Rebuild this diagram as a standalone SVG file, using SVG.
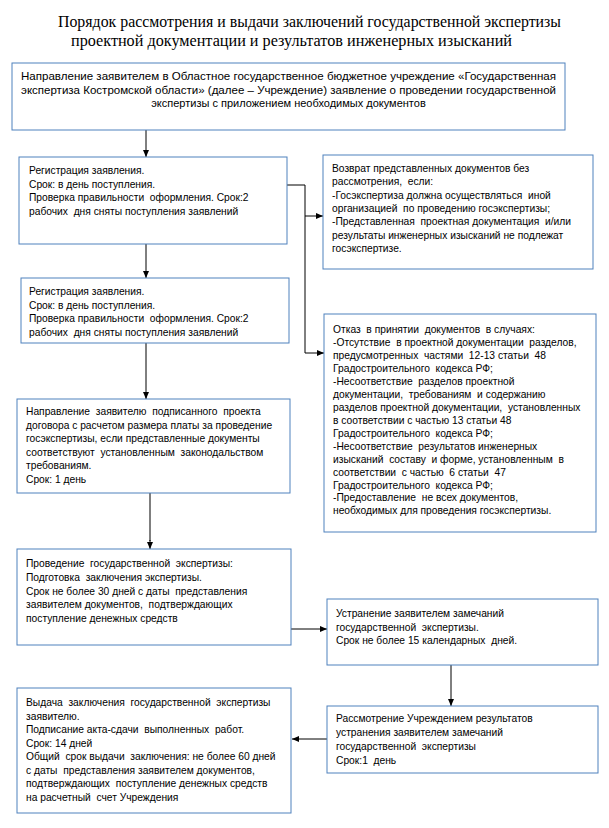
<svg xmlns="http://www.w3.org/2000/svg" width="609" height="828" viewBox="0 0 609 828">
<defs>
<style>
.box{fill:#fff;stroke:#4F81BD;stroke-width:1}
.t{font-family:"Liberation Sans",Arial,sans-serif;font-size:10.25px;fill:#000;white-space:pre}
.h{font-family:"Liberation Serif","Times New Roman",serif;font-size:16px;fill:#000}
.c{fill:none;stroke:#000;stroke-width:1}
</style>
<marker id="ar" markerWidth="8" markerHeight="8" refX="7" refY="4" orient="auto" markerUnits="userSpaceOnUse">
<path d="M0,1 L7,4 L0,7 Z" fill="#000"/>
</marker>
</defs>
<rect width="609" height="828" fill="#fff"/>
<g id="title">
<text class="h" x="58" y="27" textLength="503" lengthAdjust="spacingAndGlyphs">Порядок рассмотрения и выдачи заключений государственной экспертизы</text>
<text class="h" x="71" y="46" textLength="441" lengthAdjust="spacingAndGlyphs">проектной документации и результатов инженерных изысканий</text>
</g>
<g id="connectors">
<line class="c" x1="146" y1="130" x2="146" y2="157" marker-end="url(#ar)"/>
<line class="c" x1="146" y1="244" x2="146" y2="278" marker-end="url(#ar)"/>
<line class="c" x1="146" y1="343" x2="146" y2="399" marker-end="url(#ar)"/>
<line x1="150" y1="493" x2="150" y2="541" stroke="#7f7f7f" stroke-width="2"/>
<line class="c" x1="150" y1="540" x2="150" y2="549" marker-end="url(#ar)"/>
<polyline class="c" points="287,185 305,185 305,353"/>
<line class="c" x1="305" y1="216" x2="323" y2="216" marker-end="url(#ar)"/>
<line class="c" x1="305" y1="353" x2="324" y2="353" marker-end="url(#ar)"/>
<line class="c" x1="291" y1="629" x2="327" y2="629" marker-end="url(#ar)"/>
<line class="c" x1="451" y1="665" x2="451" y2="706" marker-end="url(#ar)"/>
<line class="c" x1="327" y1="739" x2="292" y2="739" marker-end="url(#ar)"/>
</g>
<g id="n1">
<rect class="box" x="12" y="63" width="553" height="67"/>
<text class="t" style="font-size:11px" x="288.5" y="80" text-anchor="middle" textLength="535" lengthAdjust="spacingAndGlyphs">Направление заявителем в Областное государственное бюджетное учреждение «Государственная</text>
<text class="t" style="font-size:11px" x="288.5" y="93.5" text-anchor="middle" textLength="535" lengthAdjust="spacingAndGlyphs">экспертиза Костромской области» (далее – Учреждение) заявление о проведении государственной</text>
<text class="t" style="font-size:11px" x="288.5" y="107" text-anchor="middle">экспертизы с приложением необходимых документов</text>
</g>
<g id="n2">
<rect class="box" x="19" y="157" width="268" height="87"/>
<text class="t" x="29" y="174">Регистрация заявления.</text>
<text class="t" x="29" y="187.5">Срок: в день поступления.</text>
<text class="t" x="29" y="201">Проверка правильности  оформления. Срок:2</text>
<text class="t" x="29" y="214.5">рабочих  дня сняты поступления заявлений</text>
</g>
<g id="n3">
<rect class="box" x="323" y="155" width="270" height="114"/>
<text class="t" x="332" y="172">Возврат представленных документов без</text>
<text class="t" x="332" y="185.4">рассмотрения,  если:</text>
<text class="t" x="332" y="198.7">-Госэкспертиза должна осуществляться  иной</text>
<text class="t" x="332" y="212">организацией  по проведению госэкспертизы;</text>
<text class="t" x="332" y="225.4">-Представленная  проектная документация  и/или</text>
<text class="t" x="332" y="238.7">результаты инженерных изысканий не подлежат</text>
<text class="t" x="332" y="252">госэкспертизе.</text>
</g>
<g id="n4">
<rect class="box" x="324" y="314" width="272" height="218"/>
<text class="t" x="333" y="333.3">Отказ  в принятии  документов  в случаях:</text>
<text class="t" x="333" y="346.2">-Отсутствие  в проектной документации  разделов,</text>
<text class="t" x="333" y="359.2">предусмотренных  частями  12-13 статьи  48</text>
<text class="t" x="333" y="372.1">Градостроительного  кодекса РФ;</text>
<text class="t" x="333" y="385">-Несоответствие  разделов проектной</text>
<text class="t" x="333" y="398">документации,  требованиям  и содержанию</text>
<text class="t" x="333" y="410.9">разделов проектной документации,  установленных</text>
<text class="t" x="333" y="423.8">в соответствии с частью 13 статьи 48</text>
<text class="t" x="333" y="436.7">Градостроительного  кодекса РФ;</text>
<text class="t" x="333" y="449.7">-Несоответствие  результатов инженерных</text>
<text class="t" x="333" y="462.6">изысканий  составу  и форме, установленным  в</text>
<text class="t" x="333" y="475.5">соответствии  с частью  6 статьи  47</text>
<text class="t" x="333" y="488.5">Градостроительного  кодекса РФ;</text>
<text class="t" x="333" y="501.4">-Предоставление  не всех документов,</text>
<text class="t" x="333" y="514.3">необходимых для проведения госэкспертизы.</text>
</g>
<g id="n5">
<rect class="box" x="21" y="278" width="268" height="65"/>
<text class="t" x="29" y="295">Регистрация заявления.</text>
<text class="t" x="29" y="308.5">Срок: в день поступления.</text>
<text class="t" x="29" y="322">Проверка правильности  оформления. Срок:2</text>
<text class="t" x="29" y="335.5">рабочих  дня сняты поступления заявлений</text>
</g>
<g id="n6">
<rect class="box" x="17" y="399" width="273" height="94"/>
<text class="t" x="26" y="415">Направление  заявителю  подписанного  проекта</text>
<text class="t" x="26" y="428.5">договора с расчетом размера платы за проведение</text>
<text class="t" x="26" y="442">госэкспертизы, если представленные документы</text>
<text class="t" x="26" y="455.5">соответствуют  установленным  законодальством</text>
<text class="t" x="26" y="469">требованиям.</text>
<text class="t" x="26" y="482.5">Срок: 1 день</text>
</g>
<g id="n7">
<rect class="box" x="17" y="549" width="274" height="96"/>
<text class="t" x="26" y="567">Проведение  государственной  экспертизы:</text>
<text class="t" x="26" y="580.5">Подготовка  заключения экспертизы.</text>
<text class="t" x="26" y="594.5">Срок не более 30 дней с даты  представления</text>
<text class="t" x="26" y="608">заявителем документов,  подтверждающих</text>
<text class="t" x="26" y="621.5">поступление денежных средств</text>
</g>
<g id="n8">
<rect class="box" x="327" y="599" width="271" height="66"/>
<text class="t" x="336" y="617">Устранение заявителем замечаний</text>
<text class="t" x="336" y="630.5">государственной  экспертизы.</text>
<text class="t" x="336" y="644">Срок не более 15 календарных  дней.</text>
</g>
<g id="n9">
<rect class="box" x="327" y="706" width="271" height="67"/>
<text class="t" x="336" y="722">Рассмотрение Учреждением результатов</text>
<text class="t" x="336" y="736">устранения заявителем замечаний</text>
<text class="t" x="336" y="750">государственной  экспертизы</text>
<text class="t" x="336" y="764">Срок:1  день</text>
</g>
<g id="n10">
<rect class="box" x="17" y="688" width="274" height="125"/>
<text class="t" x="26" y="706">Выдача  заключения  государственной  экспертизы</text>
<text class="t" x="26" y="719.5">заявителю.</text>
<text class="t" x="26" y="733">Подписание акта-сдачи  выполненных  работ.</text>
<text class="t" x="26" y="746.5">Срок: 14 дней</text>
<text class="t" x="26" y="760">Общий  срок выдачи  заключения: не более 60 дней</text>
<text class="t" x="26" y="773.5">с даты  представления заявителем документов,</text>
<text class="t" x="26" y="787">подтверждающих  поступление денежных средств</text>
<text class="t" x="26" y="800.5">на расчетный  счет Учреждения</text>
</g>
</svg>
